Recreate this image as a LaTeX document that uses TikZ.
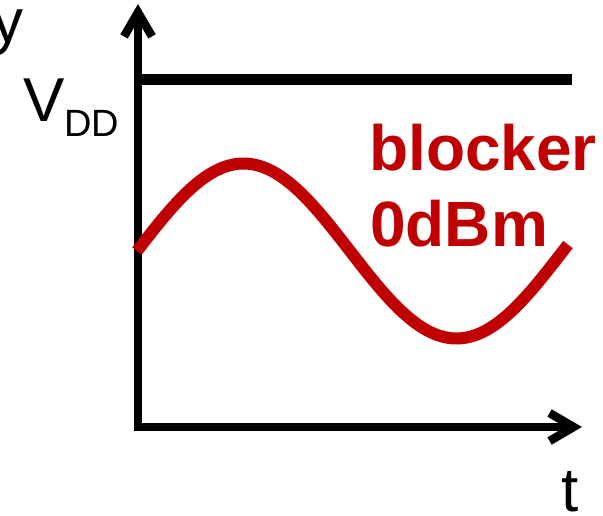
\documentclass[tikz,border=0pt]{standalone}
\usepackage{fontspec}
\setmainfont{Liberation Sans}
\usetikzlibrary{arrows.meta}
\definecolor{blkred}{RGB}{192,0,0}

\begin{document}
\begin{tikzpicture}[
      x=1pt, y=-1pt,
      axis/.style={line width=8.5pt, -{Straight Barb[length=24pt, width=28pt]}, color=black},
      rail/.style={line width=11pt, color=black},
      wave/.style={line width=12pt, color=blkred},
      lbl/.style={anchor=base west, inner sep=0pt, font=\fontsize{62}{70}\selectfont},
      redlbl/.style={lbl, font=\fontsize{64}{70}\selectfont\bfseries, text=blkred}
    ]
      \useasboundingbox (0,0) rectangle (603,516);

      % axes
      \coordinate (origin) at (138,427);
      \coordinate (ytip) at (138,4);
      \coordinate (ttip) at (582,427);
      \coordinate (vddl) at (138,80);
      \coordinate (vddr) at (572,80);

      \draw[axis] (138,431) -- (ytip);
      \draw[axis] (134,427) -- (ttip);
      \draw[rail] (vddl) -- (vddr);

      % blocker wave
      \draw[wave] plot[domain=137:568, samples=120] (\x, {251 - 87.5*sin((\x-137)/426*360)});

      % labels
      \node[lbl] (ylab) at (-8,43) {y};
      \node[lbl] (vdd) at (23,122) {V\raisebox{-15pt}{\fontsize{38}{40}\selectfont DD}};
      \node[lbl] (tlab) at (561,511) {t};
      \node[redlbl] (blk) at (369,171) {blocker};
      \node[redlbl] (pwr) at (370,247) {0dBm};
    \end{tikzpicture}
\end{document}
